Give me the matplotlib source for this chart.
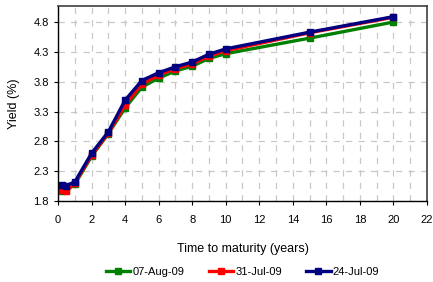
import matplotlib
matplotlib.use("Agg")
import matplotlib.pyplot as plt
from matplotlib.ticker import MultipleLocator

plt.rcParams['font.family'] = ['Liberation Sans', 'DejaVu Sans']

maturity = [0.25, 0.5, 1, 2, 3, 4, 5, 6, 7, 8, 9, 10, 15, 20]
aug07 = [1.97, 1.98, 2.08, 2.55, 2.93, 3.36, 3.71, 3.86, 3.98, 4.06, 4.19, 4.27, 4.53, 4.80]
jul31 = [1.98, 1.97, 2.10, 2.57, 2.94, 3.41, 3.76, 3.91, 4.02, 4.10, 4.23, 4.32, 4.62, 4.88]
jul24 = [2.07, 2.06, 2.12, 2.60, 2.96, 3.49, 3.82, 3.95, 4.05, 4.13, 4.26, 4.35, 4.63, 4.89]
series_labels = ['07-Aug-09', '31-Jul-09', '24-Jul-09']
colors = ['#008000', '#FF0000', '#000080']

fig = plt.figure(figsize=(4.33, 2.82), dpi=100)
ax = fig.add_axes([0.134, 0.287, 0.852, 0.692])

for ys, lab, c in zip([aug07, jul31, jul24], series_labels, colors):
    ax.plot(maturity, ys, color=c, lw=2.4, marker='s', ms=4.5, mfc=c, mec=c, label=lab)

ax.set_xlim(0, 22)
ax.set_ylim(1.8, 5.07)
ax.xaxis.set_major_locator(MultipleLocator(2))
ax.xaxis.set_minor_locator(MultipleLocator(1))
ax.set_yticks([1.8, 2.3, 2.8, 3.3, 3.8, 4.3, 4.8])
ax.set_yticklabels(['1.8', '2.3', '2.8', '3.3', '3.8', '4.3', '4.8'])

ax.grid(True, which='minor', axis='x', color='#c8c8c8', ls=(0, (5, 5)), lw=0.9)
ax.grid(True, which='major', axis='x', color='#c8c8c8', ls=(0, (5, 5)), lw=0.9)
ax.grid(True, which='major', axis='y', color='#c8c8c8', ls=(0, (5, 5)), lw=0.9)
ax.set_axisbelow(True)

ax.tick_params(axis='both', which='major', labelsize=8, direction='out', length=3, width=0.8, colors='black')
ax.tick_params(axis='x', which='minor', length=0)
ax.tick_params(axis='x', pad=7)

for s in ['left', 'bottom']:
    ax.spines[s].set_color('black')
    ax.spines[s].set_linewidth(1.0)
for s in ['top', 'right']:
    ax.spines[s].set_color('#404040')
    ax.spines[s].set_linewidth(1.2)

ax.set_ylabel('Yield (%)', fontsize=9, labelpad=10)
ax.set_xlabel('Time to maturity (years)', fontsize=9, labelpad=13)

ax.legend(loc='upper center', bbox_to_anchor=(0.5, -0.315), ncol=3, frameon=False,
          fontsize=8, handlelength=2.2, handletextpad=0.2, columnspacing=2.2,
          borderaxespad=0)

fig.savefig('out.png', dpi=100)
